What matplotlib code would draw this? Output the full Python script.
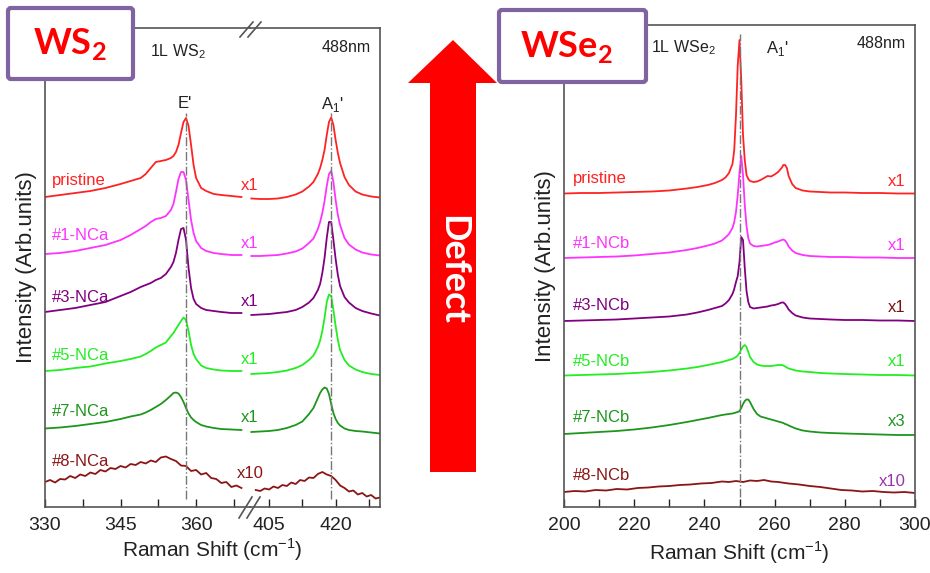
import matplotlib.pyplot as plt
from matplotlib.patches import FancyBboxPatch, Polygon

plt.rcParams['font.family'] = ['Liberation Sans', 'DejaVu Sans']

# ---- 1L WS2 spectra (broken axis: two Raman windows) ----
ws2_x_lo = [330, 333, 336, 339, 342, 345, 347, 349, 350, 351, 352, 353, 354, 355, 355.5,
            356, 356.5, 357, 357.5, 358, 358.5, 359, 359.5, 360, 361, 362, 363.5, 365, 367, 369]
ws2_x_hi = [401, 403, 405, 407, 409, 411, 412.5, 414, 415, 416, 416.5, 417, 417.5, 418, 418.5,
            419, 419.5, 420, 420.5, 421, 422, 423, 424.5, 426, 428, 430]

ws2_pristine_lo = [31.0, 31.2, 31.4, 31.6, 31.9, 32.3, 32.6, 32.9, 33.3, 33.9, 34.5, 34.6, 34.7, 34.9, 35.1,
                   35.5, 36.2, 37.4, 38.5, 38.9, 38.1, 36.2, 34.2, 32.9, 31.9, 31.6, 31.3, 31.2, 31.1, 31.0]
ws2_pristine_hi = [30.85, 30.8, 30.8, 30.85, 31.0, 31.25, 31.55, 32.05, 32.5, 33.3, 33.9, 34.7, 35.7, 37.2, 38.5,
                   38.95, 38.2, 36.7, 35.4, 34.4, 33.0, 32.2, 31.55, 31.25, 31.05, 30.95]
ws2_nca1_lo = [25.3, 25.4, 25.6, 25.9, 26.2, 26.7, 27.2, 27.8, 28.1, 28.5, 28.8, 28.9, 29.1, 29.7, 30.3,
               31.5, 32.8, 33.5, 33.5, 32.7, 30.7, 28.7, 27.4, 26.6, 25.9, 25.6, 25.4, 25.3, 25.2, 25.2]
ws2_nca1_hi = [25.1, 25.1, 25.15, 25.2, 25.35, 25.55, 25.85, 26.4, 26.85, 27.8, 28.5, 29.4, 30.6, 32.1, 33.3,
               33.6, 32.5, 30.7, 29.2, 28.2, 26.9, 26.25, 25.75, 25.45, 25.25, 25.15]
ws2_nca3_lo = [19.5, 19.7, 19.9, 20.2, 20.5, 21.1, 21.5, 22.0, 22.2, 22.4, 22.7, 22.9, 23.3, 24.0, 24.5,
               25.4, 26.7, 27.8, 27.9, 26.7, 23.9, 21.9, 20.8, 20.3, 19.9, 19.7, 19.6, 19.5, 19.4, 19.4]
ws2_nca3_hi = [19.2, 19.25, 19.3, 19.4, 19.5, 19.7, 20.0, 20.45, 20.9, 21.7, 22.3, 23.4, 24.9, 26.9, 28.5,
               28.5, 26.7, 24.8, 23.2, 22.1, 21.0, 20.45, 19.9, 19.6, 19.35, 19.15]
ws2_nca5_lo = [13.6, 13.7, 13.9, 14.05, 14.35, 14.6, 14.8, 15.05, 15.3, 15.6, 15.95, 16.2, 16.45, 17.1, 17.4,
               17.8, 18.2, 18.6, 18.95, 18.7, 17.6, 16.2, 15.3, 14.8, 14.15, 13.9, 13.75, 13.65, 13.6, 13.6]
ws2_nca5_hi = [13.3, 13.35, 13.4, 13.5, 13.65, 13.9, 14.2, 14.7, 15.15, 16.0, 16.65, 17.6, 18.9, 20.5, 21.25,
               21.1, 19.7, 18.1, 16.7, 15.7, 14.7, 14.15, 13.75, 13.5, 13.3, 13.2]
ws2_nca7_lo = [7.85, 7.95, 8.1, 8.3, 8.5, 8.8, 9.05, 9.25, 9.45, 9.7, 10.0, 10.3, 10.7, 11.15, 11.4,
               11.45, 11.35, 11.0, 10.5, 9.9, 9.35, 8.95, 8.7, 8.5, 8.2, 8.05, 7.9, 7.8, 7.75, 7.7]
ws2_nca7_hi = [7.5, 7.55, 7.6, 7.7, 7.9, 8.2, 8.55, 9.3, 9.9, 10.9, 11.4, 11.75, 11.95, 11.85, 11.3,
               10.3, 9.4, 8.8, 8.4, 8.15, 7.85, 7.7, 7.6, 7.55, 7.45, 7.35]

# #8 is noisy, sampled on its own finer grid
ws2_x8_lo = [330, 331, 332, 333, 334, 335, 336, 337, 338, 339, 340, 341, 342, 343, 344, 345, 346, 347, 348, 349,
             350, 351, 352, 353, 354, 355, 356, 357, 358, 359, 360, 361, 362, 363, 364, 365, 366, 367, 368, 369]
ws2_nca8_lo = [2.5, 2.7, 2.45, 2.8, 2.75, 3.1, 2.9, 3.25, 3.1, 3.45, 3.3, 3.7, 3.55, 3.9, 3.8, 4.1, 3.95, 4.3, 4.2, 4.5,
               4.35, 4.65, 4.5, 4.95, 5.05, 4.8, 4.6, 4.15, 4.1, 3.6, 3.7, 3.25, 3.4, 2.9, 2.8, 2.4, 2.5, 2.0, 2.15, 1.9]
ws2_x8_hi = [402, 403, 404, 405, 406, 407, 408, 409, 410, 411, 412, 413, 414, 415, 416, 417, 418, 419, 420, 421,
             422, 423, 424, 425, 426, 427, 428, 429, 430]
ws2_nca8_hi = [1.7, 1.6, 1.85, 1.75, 2.05, 1.9, 2.2, 2.1, 2.45, 2.3, 2.7, 2.6, 2.95, 2.9, 3.3, 3.5, 3.25, 3.1, 2.7, 2.15,
               1.9, 1.55, 1.65, 1.25, 1.4, 1.05, 1.2, 0.85, 0.95]

ws2_labels = ['pristine', '#1-NCa', '#3-NCa', '#5-NCa', '#7-NCa', '#8-NCa']
ws2_factors = ['x1', 'x1', 'x1', 'x1', 'x1', 'x10']

# ---- 1L WSe2 spectra ----
wse2_x = [200, 205, 210, 215, 220, 225, 230, 235, 238, 241, 243, 245, 246, 247, 248, 248.5, 249, 249.5,
          250, 250.5, 251, 251.5, 252, 252.5, 253, 254, 255, 256, 257, 258, 259, 260, 261, 262, 262.5,
          263, 263.5, 264, 265, 266, 268, 270, 273, 276, 280, 285, 290, 295, 300]
wse2_pristine = [31.35, 31.4, 31.4, 31.45, 31.5, 31.55, 31.65, 31.85, 32.0, 32.2, 32.4, 32.7, 32.95, 33.4, 34.3,
                 35.7, 39.2, 44.2, 46.7, 42.7, 37.2, 34.7, 33.2, 32.8, 32.6, 32.5, 32.55, 32.7, 32.9, 33.1,
                 33.05, 33.25, 33.5, 33.9, 34.2, 34.2, 33.9, 33.1, 32.3, 31.9, 31.65, 31.55, 31.5, 31.45,
                 31.45, 31.4, 31.4, 31.35, 31.35]
wse2_ncb1 = [24.9, 24.95, 25.0, 25.05, 25.15, 25.3, 25.45, 25.7, 25.9, 26.15, 26.35, 26.65, 26.95, 27.3, 27.9,
             28.5, 29.5, 31.2, 33.5, 35.1, 33.2, 30.2, 28.1, 26.9, 26.35, 26.1, 26.05, 26.1, 26.15, 26.2,
             26.3, 26.45, 26.55, 26.7, 26.75, 26.65, 26.4, 26.05, 25.65, 25.4, 25.2, 25.1, 25.05, 25.0,
             25.0, 24.95, 24.95, 24.9, 24.9]
wse2_ncb3 = [18.6, 18.65, 18.7, 18.75, 18.85, 18.95, 19.05, 19.25, 19.45, 19.7, 19.9, 20.1, 20.35, 20.7, 21.3,
             21.8, 22.5, 23.1, 24.5, 27.0, 26.7, 23.9, 21.6, 20.5, 20.0, 19.85, 19.9, 19.95, 20.0, 20.05,
             20.15, 20.2, 20.3, 20.45, 20.45, 20.3, 20.05, 19.75, 19.4, 19.15, 18.95, 18.85, 18.8, 18.75,
             18.7, 18.7, 18.65, 18.65, 18.6]
wse2_ncb5 = [13.15, 13.2, 13.25, 13.3, 13.4, 13.5, 13.65, 13.85, 14.0, 14.2, 14.35, 14.5, 14.6, 14.7, 14.8,
             14.9, 15.0, 15.15, 15.4, 15.75, 16.05, 16.2, 16.0, 15.5, 15.0, 14.5, 14.25, 14.15, 14.1, 14.1,
             14.1, 14.15, 14.2, 14.2, 14.15, 14.05, 13.95, 13.85, 13.75, 13.65, 13.55, 13.5, 13.4, 13.35,
             13.3, 13.25, 13.2, 13.2, 13.15]
wse2_ncb7 = [7.3, 7.4, 7.5, 7.6, 7.75, 7.95, 8.2, 8.5, 8.7, 8.9, 9.05, 9.2, 9.25, 9.3, 9.35,
             9.4, 9.45, 9.5, 9.6, 9.9, 10.3, 10.6, 10.75, 10.75, 10.5, 9.8, 9.3, 9.05, 8.95, 8.85,
             8.75, 8.65, 8.55, 8.45, 8.4, 8.3, 8.25, 8.15, 8.0, 7.85, 7.65, 7.55, 7.45, 7.4,
             7.35, 7.3, 7.25, 7.2, 7.2]
wse2_x8 = [200, 203, 206, 209, 212, 215, 218, 221, 224, 227, 230, 233, 236, 239, 242, 245, 247, 249, 251,
           253, 255, 257, 259, 261, 264, 267, 270, 273, 276, 279, 282, 285, 288, 291, 294, 297, 300]
wse2_ncb8 = [1.5, 1.6, 1.55, 1.7, 1.65, 1.8, 1.75, 1.9, 1.95, 2.05, 2.1, 2.2, 2.25, 2.35, 2.4, 2.55, 2.5, 2.6, 2.5,
             2.65, 2.6, 2.7, 2.55, 2.5, 2.35, 2.25, 2.1, 2.0, 1.85, 1.7, 1.65, 1.55, 1.6, 1.5, 1.45, 1.5, 1.4]

wse2_labels = ['pristine', '#1-NCb', '#3-NCb', '#5-NCb', '#7-NCb', '#8-NCb']
wse2_factors = ['x1', 'x1', 'x1', 'x1', 'x3', 'x10']

colors = ['#ff2222', '#ff33ff', '#800080', '#22ee22', '#1e961e', '#8b1515']
factor_colors_wse2 = ['#ff2222', '#ff33ff', '#7b1010', '#22ee22', '#1e961e', '#9b30b0']

ws2_lo = [ws2_pristine_lo, ws2_nca1_lo, ws2_nca3_lo, ws2_nca5_lo, ws2_nca7_lo, ws2_nca8_lo]
ws2_hi = [ws2_pristine_hi, ws2_nca1_hi, ws2_nca3_hi, ws2_nca5_hi, ws2_nca7_hi, ws2_nca8_hi]
wse2_all = [wse2_pristine, wse2_ncb1, wse2_ncb3, wse2_ncb5, wse2_ncb7, wse2_ncb8]

W, H = 930, 573
fig = plt.figure(figsize=(W / 100, H / 100), dpi=100)


def px_axes(x0, x1, y0, y1):
    return fig.add_axes([x0 / W, (H - y1) / H, (x1 - x0) / W, (y1 - y0) / H])


spine_c = '#555555'
text_c = '#222222'

ax1 = px_axes(45, 250, 28, 507)
ax2 = px_axes(250, 380, 28, 507)
ax3 = px_axes(564, 915, 25, 507)
# keep the scale factors written on the break visible
ax2.patch.set_visible(False)

for ax in (ax1, ax2, ax3):
    ax.set_yticks([])
    ax.tick_params(axis='x', direction='in', length=6, width=1, pad=7,
                   labelsize=14, colors=text_c)
    for s in ax.spines.values():
        s.set_color(spine_c)
        s.set_linewidth(1.2)

ax1.spines['right'].set_visible(False)
ax2.spines['left'].set_visible(False)
ax1.set_xlim(330, 370.7)
ax2.set_xlim(400.7, 430)
ax1.set_ylim(0, 47.9)
ax2.set_ylim(0, 47.9)
ax3.set_xlim(200, 300)
ax3.set_ylim(0, 48.2)

ax1.set_xticks([330, 337.5, 345, 352.5, 360, 367.5], ['330', '', '345', '', '360', ''])
ax2.set_xticks([405, 412.5, 420, 427.5], ['405', '', '420', ''])
ax3.set_xticks(range(200, 301, 10),
               [str(v) if v % 20 == 0 else '' for v in range(200, 301, 10)])

# spectra
for i in range(6):
    x_lo = ws2_x8_lo if i == 5 else ws2_x_lo
    x_hi = ws2_x8_hi if i == 5 else ws2_x_hi
    ax1.plot(x_lo, ws2_lo[i], color=colors[i], lw=1.3)
    ax2.plot(x_hi, ws2_hi[i], color=colors[i], lw=1.3)
    x_se = wse2_x8 if i == 5 else wse2_x
    ax3.plot(x_se, wse2_all[i], color=colors[i], lw=1.3)

# peak guide lines
ax1.plot([357.9, 357.9], [0.8, 39.4], color='#777777', lw=1, ls='-.')
ax2.plot([418.9, 418.9], [0.8, 39.4], color='#777777', lw=1, ls='-.')
ax3.plot([250, 250], [1.0, 47.3], color='#777777', lw=1, ls='-.')

# sample names and scale factors
ws2_label_y = [32.7, 27.2, 21.0, 15.2, 9.5, 4.5]
ws2_factor_y = [32.2, 26.4, 20.5, 14.7, 8.9, 3.4]
wse2_label_y = [32.9, 26.4, 20.2, 14.5, 8.9, 3.1]
wse2_factor_y = [32.5, 26.2, 20.0, 14.5, 8.5, 2.5]
for i in range(6):
    ax1.text(331.4, ws2_label_y[i], ws2_labels[i], color=colors[i], fontsize=12, va='center')
    t = ax1.text(370.7, ws2_factor_y[i], ws2_factors[i], color=colors[i], fontsize=12,
                 va='center', ha='center', clip_on=False)
    t.set_zorder(5)
    ax3.text(202.5, wse2_label_y[i], wse2_labels[i], color=colors[i], fontsize=12, va='center')
    ax3.text(297.3, wse2_factor_y[i], wse2_factors[i], color=factor_colors_wse2[i], fontsize=12,
             va='center', ha='right')

ax1.text(350.8, 45.5, r'1L WS$_\mathregular{2}$', fontsize=11.5, va='center', color=text_c)
ax2.text(428, 46.0, '488nm', fontsize=11.5, va='center', ha='right', color=text_c)
ax1.text(357.8, 40.3, "E'", fontsize=12, ha='center', va='center', color=text_c)
ax2.text(419.2, 40.3, r"A$_\mathregular{1}$'", fontsize=12, ha='center', va='center', color=text_c)
ax3.text(224.8, 45.9, r'1L WSe$_\mathregular{2}$', fontsize=11.5, va='center', color=text_c)
ax3.text(297.4, 46.3, '488nm', fontsize=11.5, va='center', ha='right', color=text_c)
ax3.text(257.6, 45.8, r"A$_\mathregular{1}$'", fontsize=12, va='center', color=text_c)

xlabel = r'Raman Shift (cm$^\mathregular{-1}$)'
ax1.set_ylabel('Intensity (Arb.units)', fontsize=16, labelpad=6, color=text_c)
ax3.set_ylabel('Intensity (Arb.units)', fontsize=16, labelpad=6, color=text_c)
ax3.set_xlabel(xlabel, fontsize=15, color=text_c, labelpad=4)
fig.text(212 / W, 1 - 550 / H, xlabel, fontsize=15, color=text_c, ha='center', va='center')

# overlay in pixel coordinates: break marks, arrow, material tags
ov = fig.add_axes([0, 0, 1, 1], zorder=10)
ov.set_xlim(0, W)
ov.set_ylim(H, 0)
ov.axis('off')
ov.patch.set_alpha(0)

for dx in (0, 8):
    ov.plot([240 + dx, 253 + dx], [37, 22], color=spine_c, lw=1.2)
    ov.plot([239 + dx, 252 + dx], [518, 497], color=spine_c, lw=1.2)

ov.add_patch(Polygon([(430, 472), (476, 472), (476, 83), (497, 83), (453, 40), (408, 83), (430, 83)],
                     closed=True, fc='#ff0000', ec='none'))
ov.text(453, 270, 'Defect', rotation=-90, color='white', fontsize=26, fontweight='bold',
        family=['Lato', 'DejaVu Sans'], ha='center', va='center')

for (x0, y0, x1, y1, tag, tx) in [(8, 8, 133, 79, r'WS$_\mathregular{2}$', 70),
                                  (499, 10, 646, 82, r'WSe$_\mathregular{2}$', 566)]:
    ov.add_patch(FancyBboxPatch((x0, y0), x1 - x0, y1 - y0,
                                boxstyle='round,pad=0,rounding_size=3',
                                fc='white', ec='#8064a2', lw=3))
    ov.text(tx, (y0 + y1) / 2 + 1, tag, color='#ff0000', fontsize=26, fontweight='bold',
            family=['Lato', 'DejaVu Sans'], ha='center', va='center')

fig.savefig('out.png', dpi=100)
